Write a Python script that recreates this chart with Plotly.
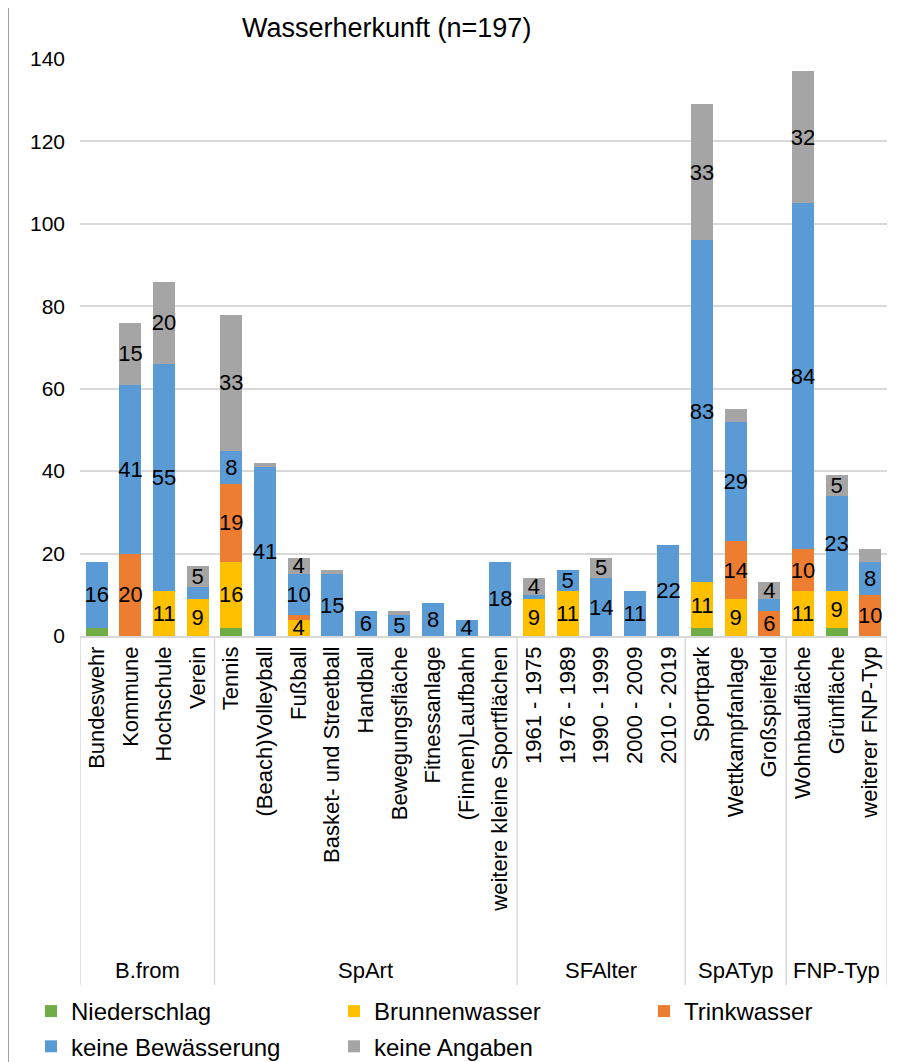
import plotly.graph_objects as go

categories = ["Bundeswehr", "Kommune", "Hochschule", "Verein",
              "Tennis", "(Beach)Volleyball", "Fußball", "Basket- und Streetball", "Handball",
              "Bewegungsfläche", "Fitnessanlage", "(Finnen)Laufbahn", "weitere kleine Sportflächen",
              "1961 - 1975", "1976 - 1989", "1990 - 1999", "2000 - 2009", "2010 - 2019",
              "Sportpark", "Wettkampfanlage", "Großspielfeld",
              "Wohnbaufläche", "Grünfläche", "weiterer FNP-Typ"]

groups = ["B.from", "SpArt", "SFAlter", "SpATyp", "FNP-Typ"]
group_sizes = [4, 9, 5, 3, 3]

niederschlag = [2, 0, 0, 0, 2, 0, 0, 0, 0, 0, 0, 0, 0, 0, 0, 0, 0, 0, 2, 0, 0, 0, 2, 0]
brunnenwasser = [0, 0, 11, 9, 16, 0, 4, 0, 0, 0, 0, 0, 0, 9, 11, 0, 0, 0, 11, 9, 0, 11, 9, 0]
trinkwasser = [0, 20, 0, 0, 19, 0, 1, 0, 0, 0, 0, 0, 0, 0, 0, 0, 0, 0, 0, 14, 6, 10, 0, 10]
keine_bewaesserung = [16, 41, 55, 3, 8, 41, 10, 15, 6, 5, 8, 4, 18, 1, 5, 14, 11, 22, 83, 29, 3, 84, 23, 8]
keine_angaben = [0, 15, 20, 5, 33, 1, 4, 1, 0, 1, 0, 0, 0, 4, 0, 5, 0, 0, 33, 3, 4, 32, 5, 3]

series = [
    ("Niederschlag", niederschlag, "#70AD47", "legend"),
    ("Brunnenwasser", brunnenwasser, "#FFC000", "legend2"),
    ("Trinkwasser", trinkwasser, "#ED7D31", "legend3"),
    ("keine Bewässerung", keine_bewaesserung, "#5B9BD5", "legend"),
    ("keine Angaben", keine_angaben, "#A5A5A5", "legend2"),
]

FONT = "Liberation Sans, Arial, Helvetica, sans-serif"

fig = go.Figure()
for name, vals, color, lg in series:
    fig.add_trace(go.Bar(
        x=categories, y=vals, name=name, legend=lg, legendgroup=name,
        marker=dict(color=color, line=dict(width=0)),
        text=[str(v) if v >= 4 else "" for v in vals],
        textposition="inside", insidetextanchor="middle", textangle=0,
        textfont=dict(size=22, color="black", family=FONT),
        hoverinfo="skip",
    ))

# layout geometry (figure pixels); page has an 8px body margin
OFF = 8
W, H = 900, 1054
L, R, T, B = 72, 21, 51, 426
pw, ph = W - L - R, H - T - B
def px_x(p):  # p in screenshot pixels
    return (p - OFF - L) / pw
def px_y(p):
    return (H - B - (p - OFF)) / ph

shapes = []
annotations = []
start = 0
bounds = [-0.5]
for g, n in zip(groups, group_sizes):
    end = start + n
    bounds.append(end - 0.5)
    annotations.append(dict(x=(start + end - 1) / 2, xref="x", y=px_y(970), yref="paper",
                            text=g, showarrow=False, font=dict(size=22, color="black", family=FONT),
                            xanchor="center", yanchor="middle"))
    start = end
for b in bounds:
    shapes.append(dict(type="line", xref="x", yref="paper", x0=b, x1=b, y0=0, y1=px_y(985),
                       line=dict(color="#d9d9d9", width=1.5), layer="below"))
# outer frame (left and top edges visible)
shapes.append(dict(type="rect", xref="paper", yref="paper",
                   x0=px_x(8), x1=px_x(940), y0=px_y(5), y1=px_y(1090),
                   line=dict(color="#808080", width=1.5), fillcolor="rgba(0,0,0,0)", layer="below"))

annotations.append(dict(x=px_x(386), xref="paper", y=px_y(28), yref="paper",
                        text="Wasserherkunft (n=197)", showarrow=False,
                        font=dict(size=27, color="black", family=FONT),
                        xanchor="center", yanchor="middle"))

leg_common = dict(orientation="v", xanchor="left", yanchor="top", y=px_y(989),
                  font=dict(size=24, color="black", family=FONT), traceorder="grouped",
                  tracegroupgap=1, bgcolor="rgba(0,0,0,0)", itemwidth=30)

fig.update_layout(
    width=W, height=H,
    margin=dict(l=L, r=R, t=T, b=B, autoexpand=False),
    barmode="stack", bargap=0.345,
    plot_bgcolor="white", paper_bgcolor="white",
    font=dict(family=FONT, color="black"),
    xaxis=dict(type="category", tickangle=-90, tickfont=dict(size=22, color="black"),
               showline=True, linecolor="#d9d9d9", linewidth=1.5, ticks="",
               showgrid=False, range=[-0.5, 23.5], fixedrange=True),
    yaxis=dict(range=[0, 140], dtick=20, tickfont=dict(size=21, color="black"),
               gridcolor="#d9d9d9", gridwidth=1.5, zeroline=False, showline=False,
               ticklabelstandoff=14, fixedrange=True),
    legend=dict(x=px_x(31), **leg_common),
    legend2=dict(x=px_x(334), **leg_common),
    legend3=dict(x=px_x(644), **leg_common),
    uniformtext=dict(minsize=22, mode="show"),
    shapes=shapes, annotations=annotations,
    showlegend=True,
)

fig.write_html("out.html")
